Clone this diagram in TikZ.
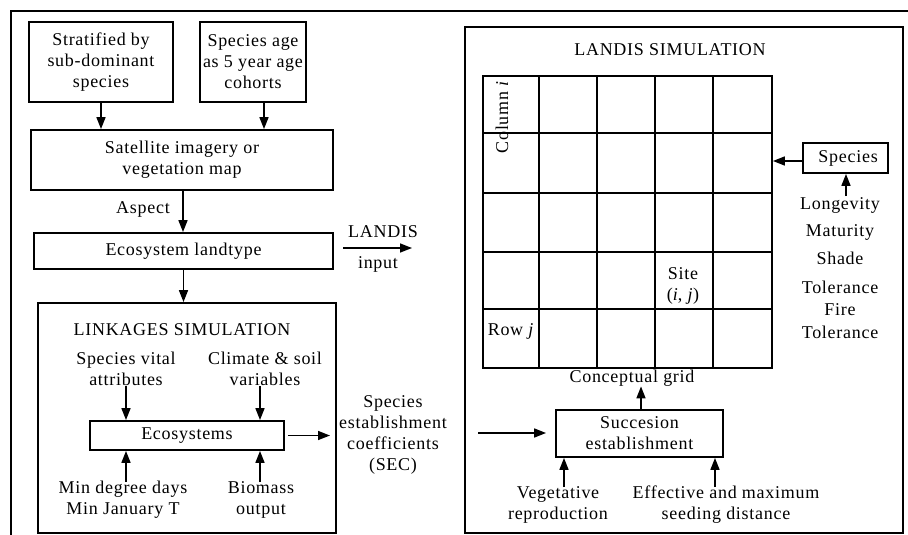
\documentclass[tikz,border=0pt]{standalone}
\usepackage{fontspec}
\setmainfont[LetterSpace=4]{Liberation Serif}
\usetikzlibrary{arrows.meta}
\begin{document}
\begin{tikzpicture}[x=1pt,y=-1pt,
  box/.style={draw,line width=1.8pt,inner sep=0pt,align=center},
  txt/.style={inner sep=0pt,align=center},
  arr/.style={line width=1.6pt,-{Triangle[length=12pt,width=9pt]}},
  gridline/.style={line width=1.8pt},
  font=\fontsize{18}{21}\selectfont]
\useasboundingbox (0,0) rectangle (908,535);
\draw[line width=1.3pt] (908,11) -- (11,11) -- (11,535);

% left column
\node[box,minimum width=144pt,minimum height=80pt] (strat) at (101,62) {Stratified by\\sub-dominant\\species};
\node[box,minimum width=106pt,minimum height=80pt] (age) at (253,62) {Species age\\as 5 year age\\cohorts};
\node[box,minimum width=302pt,minimum height=60pt] (sat) at (182,160) {Satellite imagery or\\vegetation map};
\node[box,minimum width=299pt,minimum height=36pt] (land) at (183.5,251) {Ecosystem landtype};
\node[txt,anchor=east] (aspect) at (170,209) {Aspect};
\node[box,minimum width=298pt,minimum height=230pt] (link) at (187,418) {};
\node[txt] (linktitle) at (182,330) {LINKAGES SIMULATION};
\node[txt] (vital) at (126,369) {Species vital\\attributes};
\node[txt] (climate) at (265,369) {Climate \& soil\\variables};
\node[box,minimum width=194pt,minimum height=29pt] (eco) at (187,435.5) {Ecosystems};
\node[txt] (degree) at (123,500) {Min degree days\\Min January T};
\node[txt] (biomass) at (261,500) {Biomass\\output};
\node[txt] (sec) at (393,435) {Species\\establishment\\coefficients\\(SEC)};

\draw[arr] (strat.south) -- (strat.south |- sat.north);
\draw[arr] ([xshift=11pt]age.south) -- ([xshift=11pt]age.south |- sat.north);
\draw[arr] ([xshift=1pt]sat.south) -- ([xshift=1pt]sat.south |- land.north);
\draw[arr] (land.south) -- (land.south |- link.north);
\draw[arr] (vital.south) -- (vital.south |- eco.north);
\draw[arr] ([xshift=-5pt]climate.south) -- ([xshift=-5pt]climate.south |- eco.north);
\coordinate (degout) at (126,482);
\draw[arr] (degout) -- (degout |- eco.south);
\coordinate (bioout) at (260,482);
\draw[arr] (bioout) -- (bioout |- eco.south);
\draw[arr,shorten <=3pt] (eco.east) -- (330,435.5) coordinate (secin);

% LANDIS input arrow
\coordinate (lin0) at (343,248);
\coordinate (lin1) at (412,248);
\draw[arr] (lin0) -- (lin1);
\node[txt] (landisw) at (383,232) {LANDIS};
\node[txt] (inputw) at (378,264) {input};

% right panel
\node[box,minimum width=438pt,minimum height=506pt] (landis) at (684,280) {};
\node[txt] (landistitle) at (670,50) {LANDIS SIMULATION};
\node[draw,gridline,minimum width=289pt,minimum height=292pt,inner sep=0pt] (grid) at (627.5,222) {};
\foreach \x in {539,597,655,713} \draw[gridline] (\x,76) -- (\x,368);
\foreach \y in {133,193,252,309} \draw[gridline] (483,\y) -- (772,\y);
\node[txt,rotate=90] (coli) at (502,117) {Column \textit{i}};
\node[txt] (site) at (683,286) {Site\\(\textit{i}, \textit{j})};
\node[txt] (rowj) at (511,331) {Row \textit{j}};
\node[txt] (concept) at (632,378) {Conceptual grid};

\node[box,minimum width=85pt,minimum height=30pt] (spec) at (845.5,158) {\ Species};
\node[txt] (longev) at (840,205) {Longevity};
\node[txt] (matur) at (840,232) {Maturity};
\node[txt] (shade) at (840,258) {Shade};
\node[txt] (tol1) at (840,287) {Tolerance};
\node[txt] (fire) at (840,310) {Fire};
\node[txt] (tol2) at (840,332) {Tolerance};
\draw[arr] ([yshift=-3pt]spec.west) -- ([yshift=-3pt]spec.west -| grid.east);
\coordinate (lonin) at (846,196);
\draw[arr] (lonin) -- (lonin |- spec.south);

\node[box,minimum width=167pt,minimum height=47pt] (succ) at (639.5,433.5) {Succesion\\establishment};
\node[txt] (veg) at (558,505) {Vegetative\\reproduction};
\node[txt] (eff) at (726,505) {Effective and maximum\\seeding distance};
\draw[arr] ([xshift=1.5pt]succ.north) -- ([xshift=1.5pt]succ.north |- concept.south);
\coordinate (secout) at (478,433);
\draw[arr] (secout) -- ([xshift=-9pt]secout -| succ.west);
\coordinate (vegin) at (564,487);
\draw[arr] (vegin) -- (vegin |- succ.south);
\coordinate (effin) at (715,487);
\draw[arr] (effin) -- (effin |- succ.south);
\end{tikzpicture}
\end{document}
